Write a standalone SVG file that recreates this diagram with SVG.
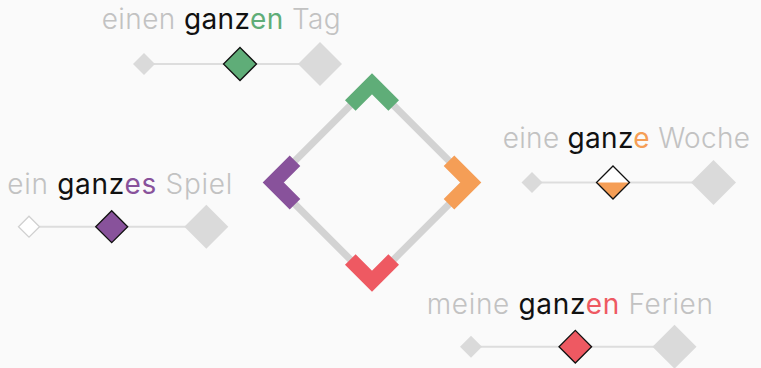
<svg xmlns="http://www.w3.org/2000/svg" width="761" height="368" viewBox="0 0 761 368">
<style>
.bg{fill:#fafafa}
.edge{stroke:#d3d3d3;stroke-width:7;fill:none;stroke-linecap:butt}
.chev{fill:none;stroke-width:15;stroke-linejoin:miter;stroke-linecap:butt}
.txt{font-family:"Inter","Open Sans","Liberation Sans",sans-serif;font-size:28px;font-weight:300;fill:#c2c2c2}
.k{fill:#111111;font-weight:400}
.s{font-weight:400}
.rail{stroke:#dddddd;stroke-width:2}
.sm{fill:#dadada}
.big{fill:#dadada}
.mid{stroke:#111111;stroke-width:1.3}
</style>
<rect class="bg" x="0" y="0" width="761" height="368"/>
<g id="connectors">
<line class="edge" x1="372" y1="83.8" x2="470.7" y2="182.5"/>
<line class="edge" x1="470.7" y1="182.5" x2="372" y2="281.2"/>
<line class="edge" x1="372" y1="281.2" x2="273.3" y2="182.5"/>
<line class="edge" x1="273.3" y1="182.5" x2="372" y2="83.8"/>
</g>
<g id="chevron-top"><polyline class="chev" stroke="#5fad78" points="350.3,105.5 372,83.8 393.7,105.5"/></g>
<g id="chevron-right"><polyline class="chev" stroke="#f59e56" points="449,160.8 470.7,182.5 449,204.2"/></g>
<g id="chevron-bottom"><polyline class="chev" stroke="#ee5962" points="350.3,259.5 372,281.2 393.7,259.5"/></g>
<g id="chevron-left"><polyline class="chev" stroke="#88529b" points="295,160.8 273.3,182.5 295,204.2"/></g>
<g id="phrase-tag">
<text class="txt" x="101.7" y="29.3" textLength="239" lengthAdjust="spacing">einen <tspan class="k">ganz</tspan><tspan class="s" fill="#5fad78">en</tspan> Tag</text>
<line class="rail" x1="144" y1="64" x2="320" y2="64"/>
<polygon class="sm" points="144,53 155,64 144,75 133,64"/>
<polygon class="big" points="320,42 342,64 320,86 298,64"/>
<polygon class="mid" fill="#5fad78" points="240,47.5 256.5,64 240,80.5 223.5,64"/>
</g>
<g id="phrase-woche">
<text class="txt" x="502.7" y="148.3" textLength="247.3" lengthAdjust="spacing">eine <tspan class="k">ganz</tspan><tspan class="s" fill="#f59e56">e</tspan> Woche</text>
<line class="rail" x1="532" y1="182.5" x2="713.5" y2="182.5"/>
<polygon class="sm" points="532,172 542.5,182.5 532,193 521.5,182.5"/>
<polygon class="big" points="713.5,160 736,182.5 713.5,205 691,182.5"/>
<polygon fill="#ffffff" points="613,166 629.5,182.5 613,199 596.5,182.5"/>
<polygon fill="#f59e56" points="596.5,182.5 629.5,182.5 613,199"/>
<polygon class="mid" fill="none" points="613,166 629.5,182.5 613,199 596.5,182.5"/>
</g>
<g id="phrase-spiel">
<text class="txt" x="7.3" y="194.3" textLength="225" lengthAdjust="spacing">ein <tspan class="k">ganz</tspan><tspan class="s" fill="#88529b">es</tspan> Spiel</text>
<line class="rail" x1="39.5" y1="226.7" x2="206.3" y2="226.7"/>
<polygon fill="#ffffff" stroke="#d0d0d0" stroke-width="1.3" points="29,216.2 39.5,226.7 29,237.2 18.5,226.7"/>
<polygon class="big" points="206.3,204.7 228.3,226.7 206.3,248.7 184.3,226.7"/>
<polygon class="mid" fill="#88529b" points="111.7,210.7 127.7,226.7 111.7,242.7 95.7,226.7"/>
</g>
<g id="phrase-ferien">
<text class="txt" x="426.7" y="314.3" textLength="286.3" lengthAdjust="spacing">meine <tspan class="k">ganz</tspan><tspan class="s" fill="#ee5962">en</tspan> Ferien</text>
<line class="rail" x1="471" y1="346.7" x2="674.5" y2="346.7"/>
<polygon class="sm" points="471,335.7 482,346.7 471,357.7 460,346.7"/>
<polygon class="big" points="674.5,324.7 696.5,346.7 674.5,368.7 652.5,346.7"/>
<polygon class="mid" fill="#ee5962" points="575.3,330.4 591.6,346.7 575.3,363 559,346.7"/>
</g>
</svg>
